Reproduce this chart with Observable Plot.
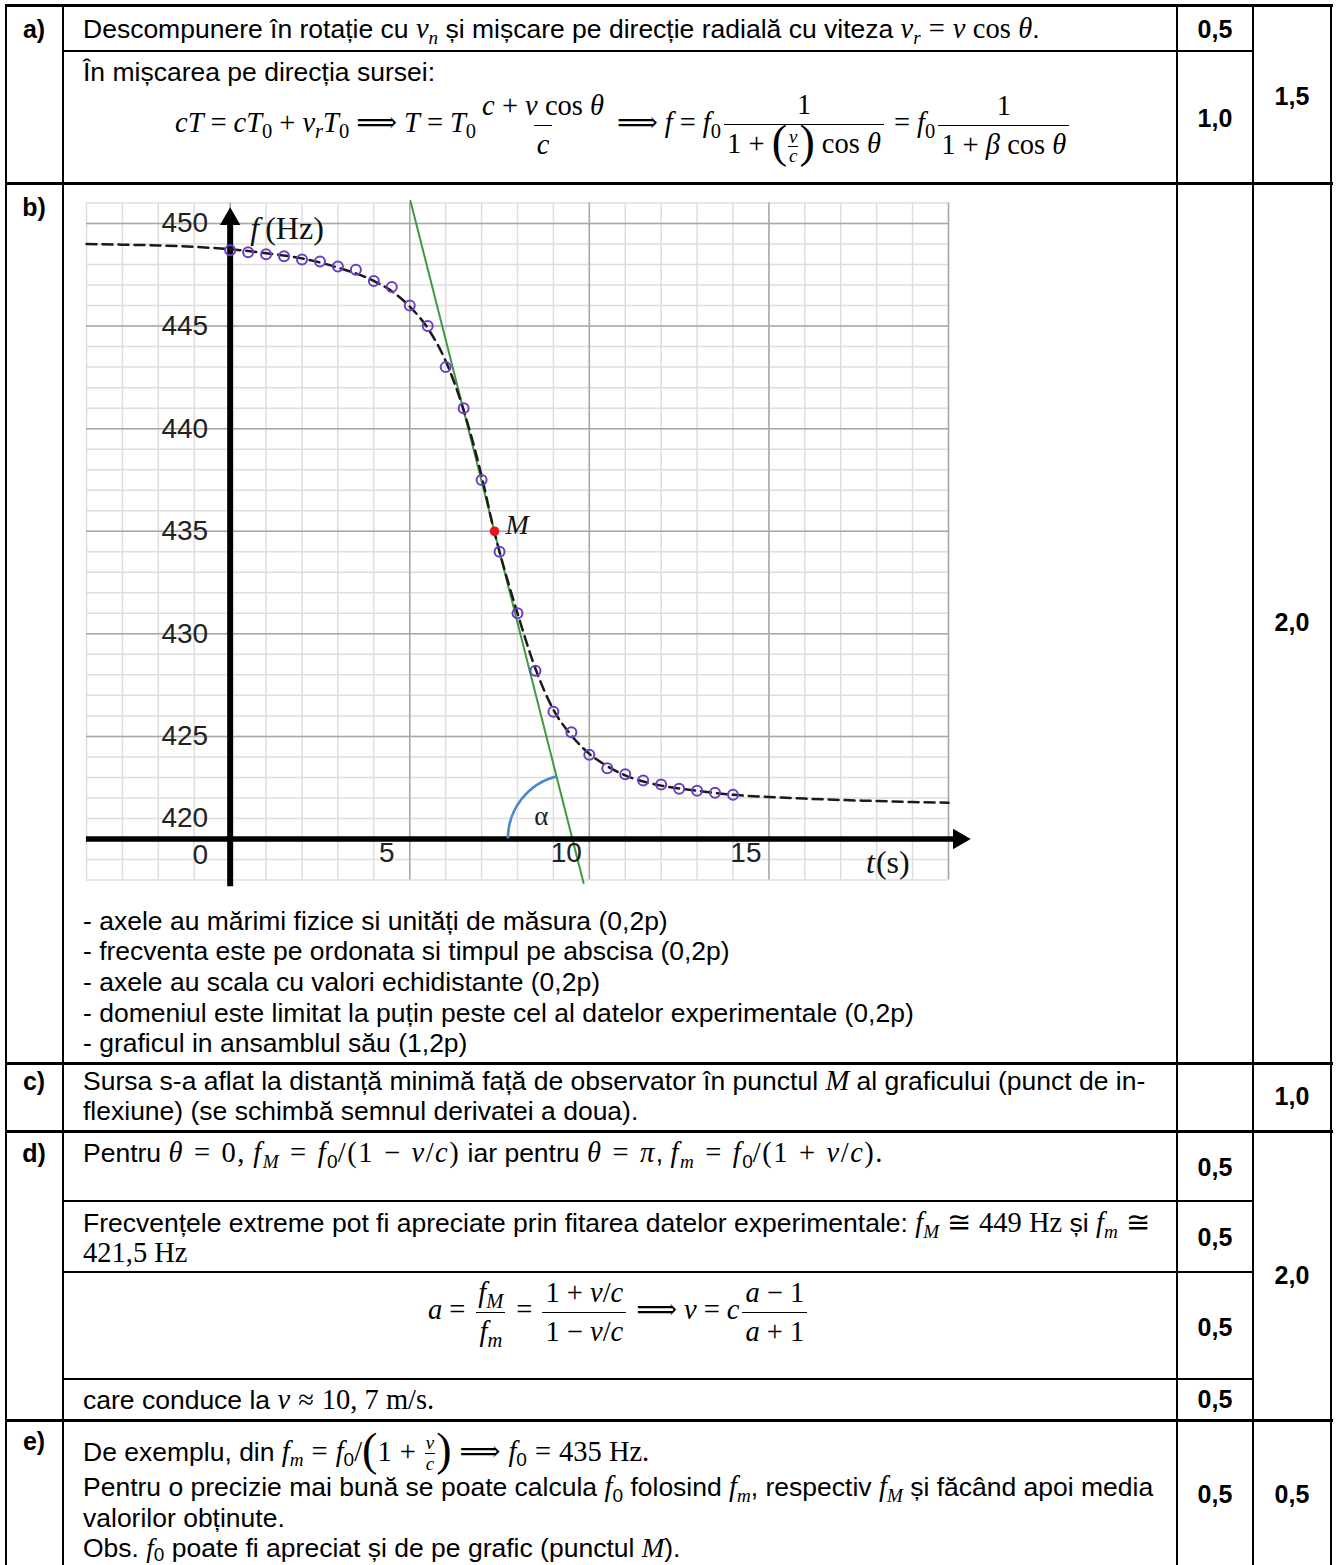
<!DOCTYPE html>
<html lang="ro">
<head>
<meta charset="utf-8">
<script src="https://cdn.jsdelivr.net/npm/d3@7"></script>
<script src="https://cdn.jsdelivr.net/npm/@observablehq/plot@0.6"></script>
<style>
html, body { margin:0; padding:0; background:#fff; }
#page { position:relative; width:1336px; height:1565px; overflow:hidden; font-family:"Liberation Sans", Arial, sans-serif; font-size:26.5px; color:#000; }
.t { position:absolute; white-space:nowrap; line-height:30px; }
.lb { position:absolute; left:5px; width:58px; text-align:center; font-weight:bold; font-size:25px; line-height:30px; }
.s { position:absolute; text-align:center; font-weight:bold; font-size:25px; line-height:30px; }
.s1 { left:1177px; width:76px; }
.s2 { left:1253px; width:78px; }
.h { position:absolute; background:#000; }
.eq i, .t i { font-family:"Liberation Serif","DejaVu Serif",serif; font-style:italic; }
.t i, .t .u { font-size:28.5px; line-height:20px; }
.u { font-family:"Liberation Serif","DejaVu Serif",serif; font-style:normal; }
.op { margin:0 8px; }
.wide i, .wide .u { letter-spacing:1.5px; }
.wide .op { margin:0 10px; }
.last i { font-size:27px; }
.last sub { vertical-align:-0.2em; }
sub { font-size:0.72em; vertical-align:-0.3em; line-height:0; font-style:normal; }
sub i { font-size:inherit !important; }
.eq { position:absolute; white-space:nowrap; font-family:"Liberation Serif","DejaVu Serif",serif; font-size:28.5px; line-height:30px; }
.o { margin:0 7px; }
.frac { display:inline-flex; flex-direction:column; align-items:center; vertical-align:middle; margin:0 3px; }
.frac > span { display:block; padding:0 3px; line-height:38px; text-align:center; }
.frac > .den { border-top:1.6px solid #000; }
.sm { font-size:19px; margin:0 1px; }
.sm > span { line-height:18px; padding:0 1px; }
.sm > .den { border-top:1.2px solid #000; }
.sm i { font-size:19px !important; }
.p { font-family:"Liberation Serif","DejaVu Serif",serif; font-size:46px; vertical-align:middle; line-height:30px; position:relative; top:-4px; }
#chart { position:absolute; left:70px; top:185px; }
</style>
</head>
<body>
<div id="page">
  <!-- table rules -->
  <div class="h" style="left:5px;top:4px;width:1328px;height:3px"></div>
  <div class="h" style="left:5px;top:182px;width:1328px;height:3px"></div>
  <div class="h" style="left:5px;top:1062px;width:1328px;height:3px"></div>
  <div class="h" style="left:5px;top:1130px;width:1328px;height:3px"></div>
  <div class="h" style="left:5px;top:1419px;width:1328px;height:3px"></div>
  <div class="h" style="left:63px;top:50px;width:1190px;height:2px"></div>
  <div class="h" style="left:63px;top:1200px;width:1190px;height:2px"></div>
  <div class="h" style="left:63px;top:1271px;width:1190px;height:2px"></div>
  <div class="h" style="left:63px;top:1378px;width:1190px;height:2px"></div>
  <div class="h" style="left:5px;top:4px;width:2px;height:1561px"></div>
  <div class="h" style="left:62px;top:4px;width:2px;height:1561px"></div>
  <div class="h" style="left:1176px;top:4px;width:2px;height:1561px"></div>
  <div class="h" style="left:1252px;top:4px;width:2px;height:1561px"></div>
  <div class="h" style="left:1330px;top:4px;width:2px;height:1561px"></div>

  <!-- a) -->
  <div class="lb" style="top:14px">a)</div>
  <div class="t" style="left:83px;top:14px">Descompunere în rotație cu <i>v</i><sub><i>n</i></sub> și mișcare pe direcție radială cu viteza <i>v</i><sub><i>r</i></sub><span class="u op">=</span><i>v</i> <span class="u">cos</span> <i>θ</i>.</div>
  <div class="s s1" style="top:14px">0,5</div>
  <div class="t" style="left:83px;top:57px">În mișcarea pe direcția sursei:</div>
  <div class="eq" style="left:175px;top:86px">
    <i>cT</i><span class="o">=</span><i>cT</i><sub>0</sub><span class="o">+</span><i>v</i><sub><i>r</i></sub><i>T</i><sub>0</sub><span class="o">⟹</span><i>T</i><span class="o">=</span><i>T</i><sub>0</sub><span class="frac"><span class="num"><i>c</i> + <i>v</i> cos <i>θ</i></span><span class="den"><i>c</i></span></span><span class="o">⟹</span><i>f</i><span class="o">=</span><i>f</i><sub>0</sub><span class="frac"><span class="num">1</span><span class="den">1 + <span class="p">(</span><span class="frac sm"><span class="num"><i>v</i></span><span class="den"><i>c</i></span></span><span class="p">)</span> cos <i>θ</i></span></span><span class="o">=</span><i>f</i><sub>0</sub><span class="frac"><span class="num">1</span><span class="den">1 + <i>β</i> cos <i>θ</i></span></span>
  </div>
  <div class="s s1" style="top:103px">1,0</div>
  <div class="s s2" style="top:81px">1,5</div>

  <!-- b) -->
  <div class="lb" style="top:192px">b)</div>
  <div id="chart"></div>
  <div class="s s2" style="top:607px">2,0</div>
  <div class="t" style="left:83px;top:906px">- axele au mărimi fizice si unități de măsura (0,2p)</div>
  <div class="t" style="left:83px;top:936px">- frecventa este pe ordonata si timpul pe abscisa (0,2p)</div>
  <div class="t" style="left:83px;top:967px">- axele au scala cu valori echidistante (0,2p)</div>
  <div class="t" style="left:83px;top:998px">- domeniul este limitat la puțin peste cel al datelor experimentale (0,2p)</div>
  <div class="t" style="left:83px;top:1028px">- graficul in ansamblul său (1,2p)</div>

  <!-- c) -->
  <div class="lb" style="top:1066px">c)</div>
  <div class="t" style="left:83px;top:1066px">Sursa s-a aflat la distanță minimă față de observator în punctul <i>M</i> al graficului (punct de in-</div>
  <div class="t" style="left:83px;top:1096px">flexiune) (se schimbă semnul derivatei a doua).</div>
  <div class="s s2" style="top:1081px">1,0</div>

  <!-- d) -->
  <div class="lb" style="top:1138px">d)</div>
  <div class="t wide" style="left:83px;top:1138px">Pentru <i>θ</i><span class="u op">=</span><span class="u">0,</span> <i>f</i><sub><i>M</i></sub><span class="u op">=</span><i>f</i><sub>0</sub><span class="u">/(1</span><span class="u op">−</span><i>v</i><span class="u">/</span><i>c</i><span class="u">)</span> iar pentru <i>θ</i><span class="u op">=</span><i>π</i>, <i>f</i><sub><i>m</i></sub><span class="u op">=</span><i>f</i><sub>0</sub><span class="u">/(1</span><span class="u op">+</span><i>v</i><span class="u">/</span><i>c</i><span class="u">).</span></div>
  <div class="s s1" style="top:1152px">0,5</div>
  <div class="t" style="left:83px;top:1208px">Frecvențele extreme pot fi apreciate prin fitarea datelor experimentale: <i>f</i><sub><i>M</i></sub><span class="u op">≅</span><span class="u">449 Hz</span> și <i>f</i><sub><i>m</i></sub><span class="u op">≅</span></div>
  <div class="t" style="left:83px;top:1238px"><span class="u">421,5 Hz</span></div>
  <div class="s s1" style="top:1222px">0,5</div>
  <div class="s s2" style="top:1260px">2,0</div>
  <div class="eq" style="left:428px;top:1274px">
    <i>a</i><span class="o">=</span><span class="frac"><span class="num"><i>f</i><sub><i>M</i></sub></span><span class="den"><i>f</i><sub><i>m</i></sub></span></span><span class="o">=</span><span class="frac"><span class="num">1 + <i>v</i>/<i>c</i></span><span class="den">1 − <i>v</i>/<i>c</i></span></span><span class="o">⟹</span><i>v</i><span class="o">=</span><i>c</i><span class="frac"><span class="num"><i>a</i> − 1</span><span class="den"><i>a</i> + 1</span></span>
  </div>
  <div class="s s1" style="top:1312px">0,5</div>
  <div class="t" style="left:83px;top:1385px">care conduce la <i>v</i><span class="u op">≈</span><span class="u">10, 7 m/s.</span></div>
  <div class="s s1" style="top:1384px">0,5</div>

  <!-- e) -->
  <div class="lb" style="top:1426px">e)</div>
  <div class="t" style="left:83px;top:1433px">De exemplu, din <i>f</i><sub><i>m</i></sub><span class="u op">=</span><i>f</i><sub>0</sub><span class="u">/</span><span class="p">(</span><span class="u">1</span><span class="u op">+</span><span class="frac sm"><span class="num"><i>v</i></span><span class="den"><i>c</i></span></span><span class="p">)</span><span class="u op">⟹</span><i>f</i><sub>0</sub><span class="u op">=</span><span class="u">435 Hz.</span></div>
  <div class="t" style="left:83px;top:1472px">Pentru o precizie mai bună se poate calcula <i>f</i><sub>0</sub> folosind <i>f</i><sub><i>m</i></sub>, respectiv <i>f</i><sub><i>M</i></sub> și făcând apoi media</div>
  <div class="t" style="left:83px;top:1503px">valorilor obținute.</div>
  <div class="t last" style="left:83px;top:1533px">Obs. <i>f</i><sub>0</sub> poate fi apreciat și de pe grafic (punctul <i>M</i>).</div>
  <div class="s s1" style="top:1479px">0,5</div>
  <div class="s s2" style="top:1479px">0,5</div>
</div>

<script>
// ---- data ----
const timeS = [0, 0.5, 1, 1.5, 2, 2.5, 3, 3.5, 4, 4.5, 5, 5.5, 6, 6.5, 7, 7.5, 8, 8.5, 9, 9.5, 10, 10.5, 11, 11.5, 12, 12.5, 13, 13.5, 14];
const freqHz = [448.7, 448.6, 448.5, 448.4, 448.25, 448.15, 447.9, 447.75, 447.2, 446.9, 446.0, 445.0, 443.0, 441.0, 437.5, 434.0, 431.0, 428.2, 426.2, 425.2, 424.1, 423.45, 423.15, 422.85, 422.65, 422.45, 422.35, 422.25, 422.15];

// fitted (dashed) curve
const fitT = [-4, -3, -2, -1, 0, 1, 2, 3, 4, 4.5, 5, 5.5, 6, 6.5, 7, 7.35, 7.5, 8, 8.5, 9, 9.5, 10, 10.5, 11, 11.5, 12, 13, 14, 15, 16, 17, 18, 19, 20];
const fitF = [449.0, 448.97, 448.93, 448.86, 448.75, 448.55, 448.3, 447.85, 447.2, 446.7, 445.95, 444.9, 443.3, 440.9, 437.7, 435.0, 434.0, 431.0, 428.3, 426.3, 425.05, 424.15, 423.55, 423.1, 422.8, 422.6, 422.35, 422.15, 422.05, 421.97, 421.9, 421.85, 421.8, 421.77];

// tangent at the inflexion point M
const tangentT = [5.02, 9.84];
const tangentF = [451.1, 417.85];
const pointM = {t: 7.36, f: 435.0, label: "M"};

// axes / grid / tick labels
const xDomain = [-4, 20];
const yDomain = [418, 451];
const axisF = 420;
const xTickLabels = [5, 10, 15];
const yTickLabels = [425, 430, 435, 440, 445, 450];
const minorT = d3.range(-4, 21, 1);
const majorT = [0, 5, 10, 15, 20];
const minorF = d3.range(418, 452, 1);
const majorF = [420, 425, 430, 435, 440, 445, 450];
const yAxisTop = 450.3, yAxisBottom = 417.67, xAxisRight = 20.35;

// ---- build tables for Plot ----
const points = timeS.map((t, i) => ({t, f: freqHz[i]}));
const fit = fitT.map((t, i) => ({t, f: fitF[i]}));
const tangent = tangentT.map((t, i) => ({t, f: tangentF[i]}));
const tCross = tangentT[0] + (axisF - tangentF[0]) * (tangentT[1] - tangentT[0]) / (tangentF[1] - tangentF[0]);

const W = 920, H = 710, ml = 16, mr = 42, mt = 17.5, mb = 15.5;
const sansFont = "Liberation Sans, Arial, sans-serif";
const serifFont = "Liberation Serif, DejaVu Serif, serif";

function angleArc(index, scales, values, dimensions) {
  const sx = typeof scales.x === "function" ? scales.x : d3.scaleLinear(xDomain, [ml, W - mr]);
  const sy = typeof scales.y === "function" ? scales.y : d3.scaleLinear(yDomain, [H - mb, mt]);
  const cx = sx(tCross), cy = sy(axisF);
  const dx = sx(tangentT[0]) - cx, dy = sy(tangentF[0]) - cy;
  const a = Math.atan2(dy, dx);
  const r = 64;
  const x0 = cx - r, y0 = cy;
  const x1 = cx + r * Math.cos(a), y1 = cy + r * Math.sin(a);
  return d3.create("svg:path")
    .attr("d", `M${x0},${y0}A${r},${r} 0 0 1 ${x1},${y1}`)
    .attr("fill", "none")
    .attr("stroke", "#4a89cf")
    .attr("stroke-width", 2.5)
    .node();
}

const chart = Plot.plot({
  width: W, height: H,
  marginLeft: ml, marginRight: mr, marginTop: mt, marginBottom: mb,
  x: {domain: xDomain, axis: null},
  y: {domain: yDomain, axis: null},
  style: {background: "transparent", overflow: "visible"},
  marks: [
    Plot.ruleX(minorT, {x: d => d, y1: yDomain[0], y2: yDomain[1], stroke: "#dedede", strokeWidth: 1.5}),
    Plot.ruleY(minorF, {y: d => d, x1: xDomain[0], x2: xDomain[1], stroke: "#dedede", strokeWidth: 1.5}),
    Plot.ruleX(majorT, {x: d => d, y1: yDomain[0], y2: yDomain[1], stroke: "#a8a8a8", strokeWidth: 1.5}),
    Plot.ruleY(majorF, {y: d => d, x1: xDomain[0], x2: xDomain[1], stroke: "#a8a8a8", strokeWidth: 1.5}),
    Plot.line(tangent, {x: "t", y: "f", stroke: "#3d9a42", strokeWidth: 2}),
    Plot.ruleY([axisF], {y: d => d, x1: xDomain[0], x2: xAxisRight, stroke: "#000", strokeWidth: 5.5}),
    Plot.ruleX([0], {x: d => d, y1: yAxisBottom, y2: yAxisTop, stroke: "#000", strokeWidth: 6}),
    Plot.dot([{t: 20.29, f: axisF}], {x: "t", y: "f", symbol: "triangle", r: 7.6, fill: "#000", rotate: 90}),
    Plot.dot([{t: 0, f: 450.22}], {x: "t", y: "f", symbol: "triangle", r: 7.6, fill: "#000"}),
    Plot.line(fit, {x: "t", y: "f", stroke: "#1a1a1a", strokeWidth: 2.5, strokeDasharray: "10,6", curve: "monotone-x"}),
    Plot.dot(points, {x: "t", y: "f", r: 5, stroke: "#6a3fc4", strokeWidth: 2, fill: "none"}),
    Plot.dot([pointM], {x: "t", y: "f", r: 4.8, fill: "#e8141b"}),
    angleArc,
    // tick labels
    Plot.text(yTickLabels, {x: () => 0, y: d => d, text: d => String(d), dx: -22, textAnchor: "end", fontSize: 28, fontFamily: sansFont, fill: "#222"}),
    Plot.text([axisF], {x: () => 0, y: d => d, text: d => String(d), dx: -22, dy: -21, textAnchor: "end", fontSize: 28, fontFamily: sansFont, fill: "#222"}),
    Plot.text([0], {x: d => d, y: () => axisF, text: d => String(d), dx: -22, dy: 16, textAnchor: "end", fontSize: 28, fontFamily: sansFont, fill: "#222"}),
    Plot.text(xTickLabels, {x: d => d, y: () => axisF, text: d => String(d), dx: -23, dy: 14, fontSize: 28, fontFamily: sansFont, fill: "#222"}),
    // axis titles and annotations
    Plot.text([0], {x: d => d, y: () => 450, text: () => "f", dx: 20, dy: 5, textAnchor: "start", fontSize: 32, fontStyle: "italic", fontFamily: serifFont, fill: "#111"}),
    Plot.text([0], {x: d => d, y: () => 450, text: () => "(Hz)", dx: 35, dy: 5, textAnchor: "start", fontSize: 32, fontFamily: serifFont, fill: "#111"}),
    Plot.text([17.7], {x: d => d, y: () => axisF, text: () => "t", dy: 24, textAnchor: "start", fontSize: 32, fontStyle: "italic", fontFamily: serifFont, fill: "#111"}),
    Plot.text([17.7], {x: d => d, y: () => axisF, text: () => "(s)", dx: 10, dy: 24, textAnchor: "start", fontSize: 32, fontFamily: serifFont, fill: "#111"}),
    Plot.text([pointM], {x: "t", y: "f", text: "label", dx: 11, dy: -6, textAnchor: "start", fontSize: 28, fontStyle: "italic", fontFamily: serifFont, fill: "#111"}),
    Plot.text([tCross], {x: d => d, y: () => axisF, text: () => "α", dx: -31, dy: -23, fontSize: 27, fontFamily: serifFont, fill: "#222"})
  ]
});
document.getElementById("chart").append(chart);
</script>
</body>
</html>
